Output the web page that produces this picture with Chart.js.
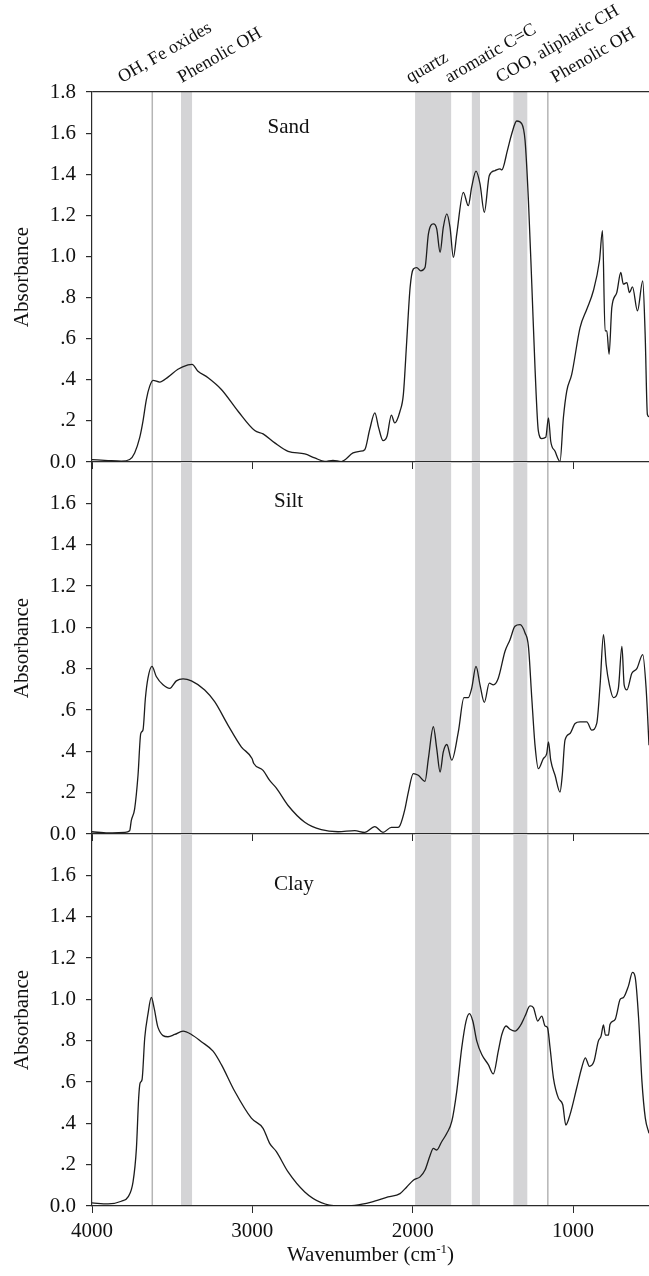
<!DOCTYPE html>
<html>
<head>
<meta charset="utf-8">
<script src="https://cdn.jsdelivr.net/npm/chart.js@4.4.0/dist/chart.umd.min.js"></script>
<style>
  body { margin: 0; background: #fff; }
  #wrap { position: relative; width: 649px; height: 1276px; }
  canvas { position: absolute; left: 0; }
</style>
</head>
<body>
<div id="wrap">
  <canvas id="sand" width="649" height="476" style="top:0;width:649px;height:476px"></canvas>
  <canvas id="silt" width="649" height="386" style="top:462px;width:649px;height:386px"></canvas>
  <canvas id="clay" width="649" height="443" style="top:834px;width:649px;height:443px"></canvas>
</div>
<script>
'use strict';

// axis ticks
const xTickValues = [4000, 3000, 2000, 1000];
const xTickLabels = ['4000', '3000', '2000', '1000'];
const yTickValues = [0, 0.2, 0.4, 0.6, 0.8, 1.0, 1.2, 1.4, 1.6, 1.8];
const yTickLabels = ['0.0', '.2', '.4', '.6', '.8', '1.0', '1.2', '1.4', '1.6', '1.8'];

// shaded bands and single lines (cm-1)
const bandRanges = [[3445, 3376], [1985, 1760], [1631, 1580], [1372, 1285]];
const markerLines = [3624, 1157];
const topLabels = ['OH, Fe oxides', 'Phenolic OH', 'quartz', 'aromatic C=C', 'COO, aliphatic CH', 'Phenolic OH'];
const topLabelAt = [3813, 3440, 2016, 1773, 1455, 1112];

const panelNames = ['Sand', 'Silt', 'Clay'];
const panelNameAt = [2905, 2865, 2865];
const panelNameLevel = [1.6, 1.58, 1.53];

// spectra
const sandWave = [4000, 3900, 3817, 3765, 3734, 3703, 3682, 3661, 3640, 3619, 3578, 3526, 3464, 3401, 3376, 3339, 3276, 3193, 3089, 2985,
  2933, 2860, 2777, 2673, 2611, 2548, 2497, 2445, 2372, 2330, 2299, 2268, 2236, 2212, 2185, 2160, 2133, 2112, 2079, 2058,
  2037, 2016, 1996, 1975, 1950, 1923, 1902, 1871, 1850, 1829, 1809, 1787, 1767, 1746, 1725, 1684, 1653, 1632, 1605, 1580,
  1553, 1522, 1486, 1455, 1444, 1409, 1382, 1351, 1320, 1299, 1278, 1257, 1237, 1216, 1195, 1170, 1153, 1139, 1112, 1081,
  1060, 1039, 1008, 956, 914, 873, 835, 816, 800, 789, 775, 758, 727, 702, 686, 664, 648, 629, 598, 565, 550, 536, 526];
const sandAbs = [0.012, 0.007, 0.004, 0.012, 0.044, 0.117, 0.199, 0.304, 0.369, 0.397, 0.389, 0.413, 0.451, 0.472, 0.475, 0.442, 0.41, 0.353, 0.247, 0.153,
  0.137, 0.093, 0.052, 0.039, 0.02, 0.003, 0.008, 0.002, 0.044, 0.052, 0.06, 0.158, 0.239, 0.166, 0.104, 0.125, 0.228, 0.19, 0.247, 0.329,
  0.589, 0.849, 0.939, 0.946, 0.93, 0.946, 1.109, 1.158, 1.134, 1.02, 1.141, 1.207, 1.141, 0.995, 1.109, 1.312, 1.247, 1.337, 1.415, 1.353,
  1.215, 1.394, 1.418, 1.426, 1.421, 1.516, 1.597, 1.659, 1.646, 1.564, 1.272, 0.865, 0.459, 0.15, 0.114, 0.12, 0.215, 0.101, 0.052, 0.003,
  0.215, 0.345, 0.426, 0.654, 0.743, 0.833, 0.979, 1.125, 0.638, 0.638, 0.524, 0.751, 0.824, 0.922, 0.865, 0.873, 0.824, 0.852, 0.735, 0.881, 0.621, 0.231, 0.22];

const siltWave = [4000, 3900, 3796, 3765, 3755, 3734, 3713, 3696, 3682, 3667, 3651, 3626, 3599, 3557, 3515, 3474, 3432, 3380, 3297, 3235,
  3152, 3069, 3002, 2991, 2933, 2892, 2850, 2777, 2673, 2570, 2465, 2361, 2299, 2236, 2185, 2133, 2091, 2079, 2048, 2027,
  1996, 1965, 1923, 1902, 1871, 1850, 1829, 1809, 1787, 1756, 1715, 1680, 1653, 1632, 1605, 1580, 1553, 1522, 1497, 1466,
  1424, 1393, 1362, 1330, 1299, 1278, 1257, 1237, 1216, 1185, 1164, 1153, 1139, 1112, 1081, 1067, 1050, 1019, 987, 956,
  914, 883, 852, 831, 810, 793, 773, 748, 717, 695, 681, 664, 633, 602, 565, 544, 526];
const siltAbs = [0.011, 0.005, 0.008, 0.016, 0.065, 0.122, 0.284, 0.486, 0.503, 0.657, 0.754, 0.811, 0.762, 0.722, 0.705, 0.741, 0.751, 0.741, 0.697, 0.64,
  0.527, 0.422, 0.365, 0.341, 0.308, 0.259, 0.222, 0.138, 0.057, 0.021, 0.011, 0.016, 0.008, 0.036, 0.008, 0.032, 0.032, 0.041, 0.122, 0.203,
  0.292, 0.284, 0.255, 0.365, 0.519, 0.413, 0.30, 0.397, 0.433, 0.357, 0.495, 0.66, 0.66, 0.705, 0.811, 0.722, 0.637, 0.73, 0.722, 0.754,
  0.884, 0.94, 1.005, 1.013, 0.973, 0.908, 0.657, 0.43, 0.316, 0.365, 0.389, 0.446, 0.357, 0.284, 0.203, 0.284, 0.454, 0.486, 0.535, 0.543,
  0.543, 0.503, 0.535, 0.722, 0.965, 0.819, 0.722, 0.66, 0.705, 0.908, 0.722, 0.697, 0.778, 0.80, 0.868, 0.705, 0.43];

const clayWave = [4000, 3900, 3817, 3775, 3744, 3723, 3709, 3700, 3688, 3671, 3651, 3630, 3613, 3588, 3526, 3484, 3432, 3380, 3318, 3245,
  3193, 3110, 3006, 2933, 2892, 2850, 2777, 2673, 2570, 2465, 2361, 2258, 2154, 2079, 2037, 1996, 1954, 1923, 1891, 1871,
  1850, 1819, 1787, 1756, 1725, 1694, 1667, 1646, 1625, 1600, 1569, 1528, 1497, 1466, 1444, 1417, 1393, 1362, 1330, 1299,
  1268, 1247, 1220, 1195, 1174, 1159, 1143, 1122, 1091, 1064, 1045, 1019, 977, 946, 923, 898, 869, 842, 825, 810,
  798, 779, 769, 737, 706, 685, 654, 629, 612, 591, 570, 549, 526];
const clayAbs = [0.015, 0.01, 0.023, 0.044, 0.117, 0.279, 0.522, 0.595, 0.611, 0.814, 0.928, 1.009, 0.96, 0.863, 0.819, 0.83, 0.846, 0.83, 0.795, 0.749,
  0.684, 0.555, 0.425, 0.376, 0.303, 0.263, 0.165, 0.068, 0.016, 0.0, 0.003, 0.019, 0.044, 0.06, 0.092, 0.125, 0.141, 0.174, 0.246, 0.279,
  0.271, 0.311, 0.352, 0.409, 0.555, 0.765, 0.895, 0.931, 0.895, 0.798, 0.733, 0.684, 0.639, 0.749, 0.83, 0.871, 0.855, 0.846, 0.871, 0.919,
  0.968, 0.96, 0.895, 0.919, 0.871, 0.863, 0.765, 0.619, 0.522, 0.49, 0.392, 0.441, 0.571, 0.668, 0.717, 0.676, 0.70, 0.798, 0.822, 0.876,
  0.827, 0.827, 0.879, 0.903, 1.0, 1.009, 1.065, 1.13, 1.106, 0.911, 0.603, 0.425, 0.352];

const FONT = "'Liberation Serif', 'Times New Roman', serif";
const INK = '#111';
const AXIS = '#2b2b2b';

const decor = {
  id: 'decor',
  beforeDraw(chart, args, o) {
    const { ctx, chartArea: a, scales: { x } } = chart;
    ctx.save();
    ctx.fillStyle = '#d4d4d6';
    bandRanges.forEach(function (b) {
      const p1 = x.getPixelForValue(b[0]);
      const p2 = x.getPixelForValue(b[1]);
      ctx.fillRect(p1, a.top, p2 - p1, a.bottom - a.top);
    });
    ctx.strokeStyle = '#b5b5b5';
    ctx.lineWidth = 1.5;
    markerLines.forEach(function (w) {
      const p = x.getPixelForValue(w);
      ctx.beginPath();
      ctx.moveTo(p, a.top);
      ctx.lineTo(p, a.bottom);
      ctx.stroke();
    });
    ctx.restore();
  },
  afterDraw(chart, args, o) {
    const { ctx, chartArea: a, scales: { x, y } } = chart;
    ctx.save();
    ctx.fillStyle = INK;
    ctx.font = '21px ' + FONT;
    ctx.textAlign = 'left';
    ctx.textBaseline = 'alphabetic';
    ctx.fillText(panelNames[o.panel], x.getPixelForValue(panelNameAt[o.panel]), y.getPixelForValue(panelNameLevel[o.panel]));

    if (o.topLabels) {
      ctx.font = '18px ' + FONT;
      topLabels.forEach(function (t, i) {
        ctx.save();
        ctx.translate(x.getPixelForValue(topLabelAt[i]), a.top - 9);
        ctx.rotate(-30 * Math.PI / 180);
        ctx.fillText(t, 0, 0);
        ctx.restore();
      });
    }

    if (o.xTitle) {
      // Wavenumber (cm^-1) with a raised -1
      const main = 'Wavenumber (cm', sup = '-1', tail = ')';
      ctx.font = '21px ' + FONT;
      const w1 = ctx.measureText(main).width;
      const w3 = ctx.measureText(tail).width;
      ctx.font = '13px ' + FONT;
      const w2 = ctx.measureText(sup).width;
      let px = (a.left + a.right) / 2 - (w1 + w2 + w3) / 2;
      const base = a.bottom + 55;
      ctx.font = '21px ' + FONT;
      ctx.fillText(main, px, base);
      px += w1;
      ctx.font = '13px ' + FONT;
      ctx.fillText(sup, px, base - 8);
      px += w2;
      ctx.font = '21px ' + FONT;
      ctx.fillText(tail, px, base);
    }
    ctx.restore();
  }
};

function makePanel(canvasId, wave, abs, panel, opts) {
  const points = wave.map(function (w, i) { return { x: w, y: abs[i] }; });
  const yTicks = opts.topTick ? yTickValues : yTickValues.slice(0, 9);
  return new Chart(document.getElementById(canvasId), {
    type: 'line',
    data: {
      datasets: [{
        data: points,
        borderColor: '#1c1c1c',
        borderWidth: 1.3,
        pointRadius: 0,
        fill: false,
        cubicInterpolationMode: 'monotone'
      }]
    },
    options: {
      responsive: false,
      animation: false,
      devicePixelRatio: 1,
      events: [],
      layout: { padding: { top: opts.padTop, left: 0, right: 0, bottom: 0 } },
      scales: {
        x: {
          type: 'linear',
          reverse: true,
          min: 526,
          max: 4000,
          afterBuildTicks: function (scale) {
            scale.ticks = xTickValues.map(function (v) { return { value: v }; });
          },
          afterFit: function (scale) {
            scale.height = opts.xHeight;
            scale.paddingLeft = 0;
            scale.paddingRight = 0;
          },
          ticks: {
            display: opts.xLabels,
            autoSkip: false,
            maxRotation: 0,
            padding: 6,
            color: INK,
            font: { family: FONT, size: 21 },
            callback: function (v, i) { return xTickLabels[i]; }
          },
          grid: { drawOnChartArea: false, drawTicks: true, tickLength: 7, tickColor: AXIS, lineWidth: 1 },
          border: { display: true, color: AXIS, width: 1.2 }
        },
        y: {
          type: 'linear',
          min: 0,
          max: 1.8,
          afterBuildTicks: function (scale) {
            scale.ticks = yTicks.map(function (v) { return { value: v }; });
          },
          afterFit: function (scale) {
            scale.width = 92;
            scale.paddingTop = 0;
            scale.paddingBottom = 0;
          },
          ticks: {
            padding: 10,
            color: INK,
            font: { family: FONT, size: 21 },
            callback: function (v, i) { return yTickLabels[i]; }
          },
          grid: {
            drawOnChartArea: true,
            drawTicks: true,
            tickLength: 6,
            tickColor: AXIS,
            lineWidth: 1.2,
            color: function (c) { return c.tick && c.tick.value === 1.8 ? AXIS : 'rgba(0,0,0,0)'; }
          },
          border: { display: true, color: AXIS, width: 1.2 },
          title: {
            display: true,
            text: 'Absorbance',
            color: INK,
            font: { family: FONT, size: 21 },
            padding: { top: 10, bottom: 0 }
          }
        }
      },
      plugins: {
        legend: { display: false },
        tooltip: { enabled: false },
        decor: { panel: panel, topLabels: opts.topLabels, xTitle: opts.xTitle }
      }
    },
    plugins: [decor]
  });
}

makePanel('sand', sandWave, sandAbs, 0, { padTop: 92, xHeight: 14, xLabels: false, topTick: true, topLabels: true, xTitle: false });
makePanel('silt', siltWave, siltAbs, 1, { padTop: 0, xHeight: 14, xLabels: false, topTick: false, topLabels: false, xTitle: false });
makePanel('clay', clayWave, clayAbs, 2, { padTop: 0, xHeight: 71, xLabels: true, topTick: false, topLabels: false, xTitle: true });
</script>
</body>
</html>
